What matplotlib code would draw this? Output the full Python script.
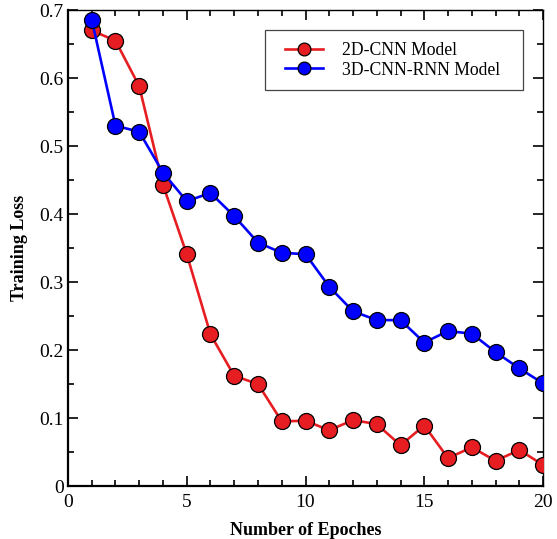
import matplotlib
matplotlib.use("Agg")
import matplotlib.pyplot as plt
from matplotlib.patches import Rectangle
from matplotlib.ticker import MultipleLocator

epochs = list(range(1, 21))
loss_2d_cnn = [0.670, 0.655, 0.588, 0.443, 0.341, 0.223, 0.162, 0.150, 0.095, 0.096,
               0.082, 0.097, 0.091, 0.060, 0.089, 0.041, 0.057, 0.037, 0.053, 0.031]
loss_3d_cnn_rnn = [0.686, 0.530, 0.521, 0.461, 0.419, 0.431, 0.397, 0.358, 0.343, 0.341,
                   0.293, 0.257, 0.244, 0.244, 0.211, 0.228, 0.224, 0.197, 0.173, 0.151]
series_names = ["2D-CNN Model", "3D-CNN-RNN Model"]
x_ticks = [0, 5, 10, 15, 20]
y_ticks = [0, 0.1, 0.2, 0.3, 0.4, 0.5, 0.6, 0.7]
y_tick_labels = ["0", "0.1", "0.2", "0.3", "0.4", "0.5", "0.6", "0.7"]

plt.rcParams["font.family"] = ["Liberation Serif", "DejaVu Serif"]

fig = plt.figure(figsize=(5.57, 5.39), dpi=100)
ax = fig.add_axes([0.122, 0.0983, 0.853, 0.883])

ax.plot(epochs, loss_2d_cnn, color="#e61e22", lw=1.9, marker="o", ms=11.5,
        mfc="#e61e22", mec="black", mew=0.9, label=series_names[0], zorder=3)
ax.plot(epochs, loss_3d_cnn_rnn, color="#0000ff", lw=1.9, marker="o", ms=11.5,
        mfc="#0000ff", mec="black", mew=0.9, label=series_names[1], zorder=3)

ax.set_xlim(0, 20)
ax.set_ylim(0, 0.7)
ax.set_xticks(x_ticks)
ax.set_yticks(y_ticks)
ax.set_yticklabels(y_tick_labels)
ax.xaxis.set_minor_locator(MultipleLocator(1))
ax.yaxis.set_minor_locator(MultipleLocator(0.05))
ax.tick_params(which="both", direction="in", top=True, right=True, labelsize=14, width=1.2)
ax.tick_params(which="major", length=7)
ax.tick_params(axis="x", which="major", pad=6)
ax.tick_params(axis="y", which="major", pad=3)
ax.tick_params(which="minor", length=4)
for spine in ax.spines.values():
    spine.set_linewidth(1.6)
for side in ("top", "right"):
    ax.spines[side].set_linewidth(1.0)

ax.set_xlabel("Number of Epoches", fontsize=13, fontweight="bold", labelpad=8)
ax.set_ylabel("Training Loss", fontsize=13, fontweight="bold", labelpad=8)

# legend box drawn separately so its padding can be wider than tall
ax.add_patch(Rectangle((0.4147, 0.832), 0.5433, 0.126, transform=ax.transAxes,
                       facecolor="white", edgecolor="#444444", lw=0.9, zorder=4))
leg = ax.legend(loc="upper left", bbox_to_anchor=(0.457, 0.932), borderaxespad=0,
                fontsize=12.7, frameon=False, markerscale=0.8, handlelength=2.15,
                borderpad=0, labelspacing=0.12, handletextpad=1.08)
leg.set_zorder(5)

fig.savefig("out.png", dpi=100)
